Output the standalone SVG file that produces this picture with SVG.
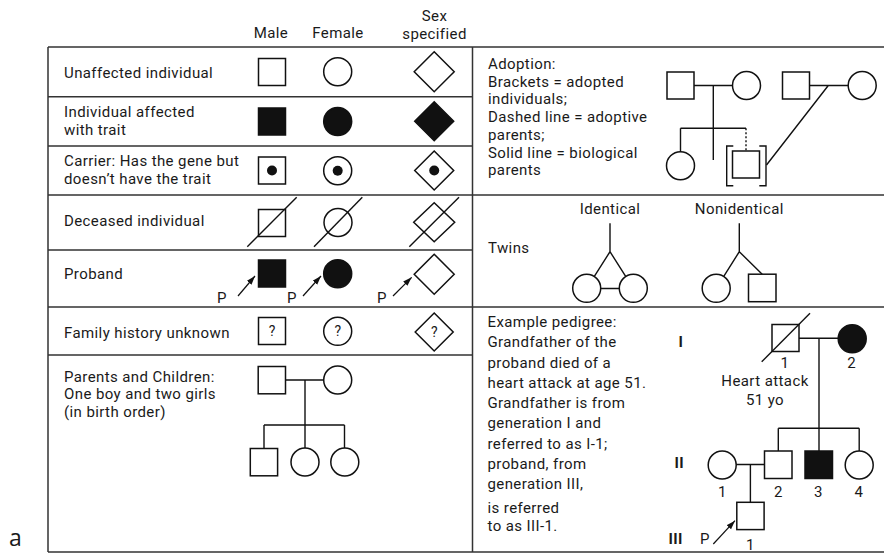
<svg xmlns="http://www.w3.org/2000/svg" width="884" height="554" viewBox="0 0 884 554">
<style>
.grid{stroke:#333;stroke-width:1.5;fill:none}
.c{stroke:#111;stroke-width:1.4;fill:none}
.d{stroke:#111;stroke-width:1.4;fill:none;stroke-dasharray:2,2}
.s{stroke:#111;stroke-width:1.5;fill:#fff}
.f{stroke:#111;stroke-width:1.5;fill:#111}
.ar{stroke:#111;stroke-width:1.2;fill:none}
text{font-family:Roboto,"Liberation Sans",Arial,sans-serif;font-size:15px;fill:#1a1a1a;letter-spacing:0.4px}
.m{text-anchor:middle}
.q{font-size:14px;text-anchor:middle;letter-spacing:0}
.b{font-weight:bold}
.lbl{font-family:"Open Sans","Liberation Sans",sans-serif;font-size:23px;letter-spacing:0}
</style>
<defs>
<marker id="ah" markerUnits="userSpaceOnUse" markerWidth="10" markerHeight="7" refX="9" refY="3.5" orient="auto">
<path d="M0,0.5 L9,3.5 L0,6.5 z" fill="#111"/>
</marker>
</defs>
<rect width="884" height="554" fill="#fff"/>

<g id="table">
<path class="grid" d="M48,47 H884 M48,47 V552 M48,552 H884 M472.5,47 V552 M48,96.7 H472.5 M48,146 H472.5 M48,195 H884 M48,250 H472.5 M48,307 H884 M48,355 H472.5"/>
</g>

<g id="headers">
<text class="m" x="271" y="38">Male</text>
<text class="m" x="338" y="38">Female</text>
<text class="m" x="434.5" y="21">Sex</text>
<text class="m" x="434.5" y="39">specified</text>
</g>

<g id="connectors">
<path class="c" d="M285.5,380 H323.7 M305,380 V425 M264,425 H344.5 M264,425 V448.5 M305,425 V448 M344.5,425 V448"/>
<path class="c" d="M694,85.5 H732.5 M713.3,85.5 V160 M680.5,128.3 H746 M680.5,128.3 V151.7 M809.5,85.5 H848.3 M828.3,85.5 L766.5,165"/>
<path class="d" d="M746,128.3 V151"/>
<path class="c" d="M610,223.3 V251.7 L586.7,288.3 M610,251.7 L633.3,288.3 M600.7,288.5 H619.3 M739.3,223.3 V251.7 L716.2,288.3 M739.3,251.7 L762.2,274.2"/>
<path class="c" d="M799,338.3 H838.3 M819,338.3 V451 M778.3,428.3 H859.2 M778.3,428.3 V451 M859.2,428.3 V451 M736,464.5 H764.5 M750.4,464.5 V502.3"/>
<line class="ar" x1="238" y1="296" x2="255" y2="276" marker-end="url(#ah)"/>
<line class="ar" x1="303" y1="296" x2="321" y2="276" marker-end="url(#ah)"/>
<line class="ar" x1="393" y1="296" x2="411.7" y2="277.3" marker-end="url(#ah)"/>
<line class="ar" x1="713.3" y1="544" x2="735" y2="520.7" marker-end="url(#ah)"/>
</g>

<g id="row-unaffected">
<text x="64" y="78">Unaffected individual</text>
<rect class="s" x="258.5" y="58.5" width="27" height="27"/>
<circle class="s" cx="337.7" cy="71.7" r="14"/>
<polygon class="s" points="434.2,51.7 454.2,71.7 434.2,91.7 414.2,71.7"/>
</g>

<g id="row-affected">
<text x="64" y="117">Individual affected</text>
<text x="64" y="134.8">with trait</text>
<rect class="f" x="258.5" y="108" width="27" height="27"/>
<circle class="f" cx="337.7" cy="121.5" r="14"/>
<polygon class="f" points="434.2,101.7 453.7,121.2 434.2,140.7 414.7,121.2"/>
</g>

<g id="row-carrier">
<text x="64" y="166">Carrier: Has the gene but</text>
<text x="64" y="183.8">doesn’t have the trait</text>
<rect class="s" x="258.5" y="157" width="27" height="27"/>
<circle cx="272" cy="170.5" r="5" fill="#111"/>
<circle class="s" cx="337.7" cy="170.7" r="14"/>
<circle cx="337.7" cy="170.7" r="5" fill="#111"/>
<polygon class="s" points="434.2,151 453.7,170.5 434.2,190 414.7,170.5"/>
<circle cx="434.2" cy="170.5" r="5" fill="#111"/>
</g>

<g id="row-deceased">
<text x="64" y="226">Deceased individual</text>
<rect class="s" x="258.5" y="209.5" width="27" height="27"/>
<line class="c" x1="247.3" y1="246.7" x2="296.7" y2="197.3"/>
<circle class="s" cx="338" cy="222.5" r="14"/>
<line class="c" x1="314" y1="246.7" x2="362.3" y2="197.3"/>
<polygon class="s" points="434.2,202.7 454.7,222.2 434.2,241.7 413.7,222.2"/>
<line class="c" x1="409.3" y1="246.7" x2="459" y2="197.3"/>
</g>

<g id="row-proband">
<text x="64" y="279">Proband</text>
<rect class="f" x="258.5" y="260" width="27" height="27"/>
<text x="217" y="303">P</text>
<circle class="f" cx="337.7" cy="273.7" r="14"/>
<text x="287" y="303">P</text>
<polygon class="s" points="434.2,254.2 454.2,274.2 434.2,294.2 414.2,274.2"/>
<text x="377" y="303">P</text>
</g>

<g id="row-unknown">
<text x="64" y="338">Family history unknown</text>
<rect class="s" x="258.5" y="317.5" width="27" height="27"/>
<text class="q" x="272" y="336">?</text>
<circle class="s" cx="337.7" cy="331.3" r="14"/>
<text class="q" x="337.7" y="336">?</text>
<polygon class="s" points="434.2,313 453.2,332 434.2,351 415.2,332"/>
<text class="q" x="434.2" y="337">?</text>
</g>

<g id="row-parents">
<text x="64" y="381.5">Parents and Children:</text>
<text x="64" y="399.2">One boy and two girls</text>
<text x="64" y="416.9">(in birth order)</text>
<rect class="s" x="258.2" y="366.5" width="27.3" height="27.3"/>
<circle class="s" cx="337.7" cy="380" r="14"/>
<rect class="s" x="250.3" y="448.5" width="27.3" height="27.3"/>
<circle class="s" cx="305" cy="462" r="14"/>
<circle class="s" cx="344.8" cy="462" r="14"/>
</g>

<g id="adoption">
<text x="488" y="69">Adoption:</text>
<text x="488" y="86.7">Brackets = adopted</text>
<text x="488" y="104.4">individuals;</text>
<text x="488" y="122.1">Dashed line = adoptive</text>
<text x="488" y="139.8">parents;</text>
<text x="488" y="157.5">Solid line = biological</text>
<text x="488" y="175.2">parents</text>
<rect class="s" x="667" y="72" width="27" height="27"/>
<circle class="s" cx="746.5" cy="85.5" r="14"/>
<circle class="s" cx="680.5" cy="165.7" r="14"/>
<rect class="s" x="732.5" y="151" width="27" height="27"/>
<path class="c" d="M733.3,146 H726.7 V185.7 H733.3 M759.3,146 H766 V185.7 H759.3"/>
<rect class="s" x="782.5" y="72" width="27" height="27"/>
<circle class="s" cx="862.2" cy="85.5" r="14"/>
</g>

<g id="twins">
<text x="488" y="253">Twins</text>
<text class="m" x="610" y="214">Identical</text>
<text class="m" x="739.3" y="214">Nonidentical</text>
<circle class="s" cx="586.7" cy="288.3" r="14"/>
<circle class="s" cx="633.3" cy="288.3" r="14"/>
<circle class="s" cx="716.2" cy="288.3" r="14"/>
<rect class="s" x="748.5" y="274.2" width="27.5" height="27.5"/>
</g>

<g id="example-pedigree">
<text x="487.5" y="327">Example pedigree:</text>
<text x="487.5" y="347">Grandfather of the</text>
<text x="487.5" y="367.5">proband died of a</text>
<text x="487.5" y="387.5">heart attack at age 51.</text>
<text x="487.5" y="408">Grandfather is from</text>
<text x="487.5" y="428">generation I and</text>
<text x="487.5" y="448.5">referred to as I-1;</text>
<text x="487.5" y="468.5">proband, from</text>
<text x="487.5" y="489">generation III,</text>
<text x="487.5" y="512.5">is referred</text>
<text x="487.5" y="530.5">to as III-1.</text>
<text class="b" x="678.5" y="346.7">I</text>
<text class="b" x="674.5" y="468.3">II</text>
<text class="b" x="668.5" y="543.5">III</text>
<rect class="s" x="772" y="324.5" width="27" height="27"/>
<line class="c" x1="761.7" y1="361.7" x2="810" y2="313.3"/>
<circle class="f" cx="852.2" cy="338.8" r="14"/>
<text class="m" x="785" y="368">1</text>
<text class="m" x="851.7" y="368">2</text>
<text class="m" x="765" y="386">Heart attack</text>
<text class="m" x="765" y="405">51 yo</text>
<circle class="s" cx="722.2" cy="465" r="14"/>
<rect class="s" x="764.5" y="451" width="27.5" height="27.5"/>
<rect class="f" x="805" y="451" width="27.5" height="27.5"/>
<circle class="s" cx="859.2" cy="465" r="14"/>
<text class="m" x="722.3" y="496.7">1</text>
<text class="m" x="778.3" y="496.7">2</text>
<text class="m" x="818.5" y="496.7">3</text>
<text class="m" x="859" y="496.7">4</text>
<rect class="s" x="736.8" y="502.3" width="27.3" height="27.3"/>
<text x="700" y="543.5">P</text>
<text class="m" x="750.5" y="550">1</text>
</g>

<text class="lbl" x="9" y="546">a</text>
</svg>
